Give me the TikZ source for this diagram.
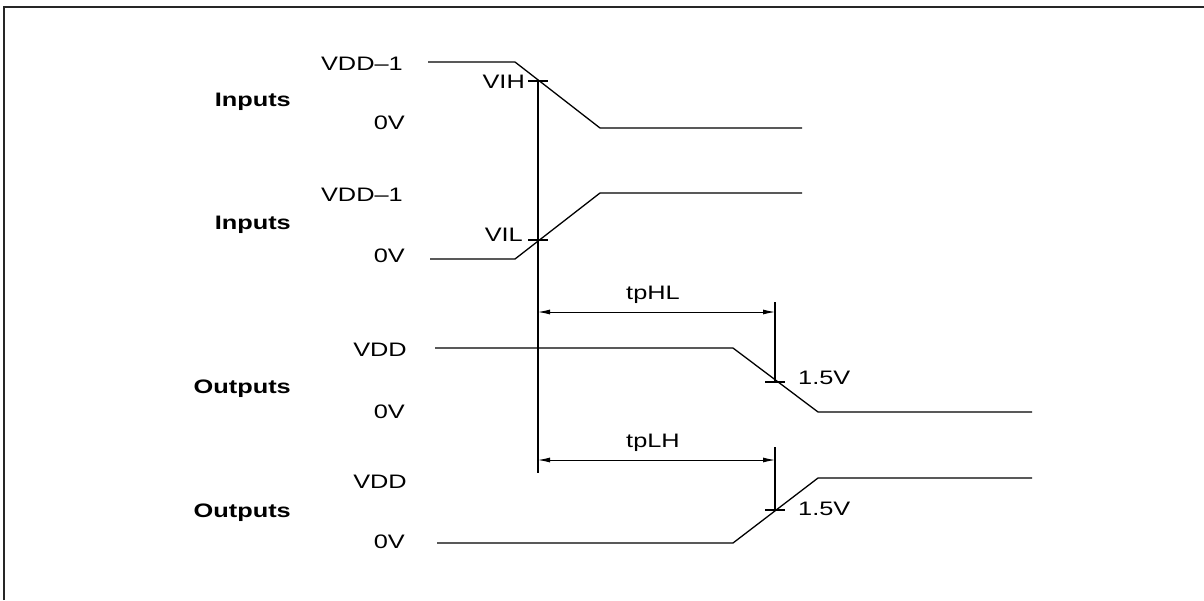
\documentclass[tikz,border=0pt]{standalone}
\usepackage{fontspec}
\setmainfont[FakeStretch=1.3]{Liberation Sans}
\usetikzlibrary{arrows.meta}
\begin{document}
\begin{tikzpicture}[x=1pt,y=-1pt,
  wave/.style={line width=1.3pt},
  mark line/.style={line width=1.3pt},
  dim/.style={line width=0.9pt, {Latex[length=12pt,width=5pt]}-{Latex[length=12pt,width=5pt]}},
  lbl/.style={font=\fontsize{19.5}{22}\selectfont, inner sep=0pt},
  sig/.style={font=\fontsize{19.5}{22}\selectfont\bfseries, inner sep=0pt, anchor=base east},
  lvl/.style={lbl, anchor=base east}]
\useasboundingbox (0,0) rectangle (1204,600);
\draw[line width=1.6pt, black!85] (4,600) -- (4,7) -- (1204,7);

% signal names
\node[sig] (in1) at (291,106) {Inputs};
\node[sig] (in2) at (291,229) {Inputs};
\node[sig] (out1) at (291,393) {Outputs};
\node[sig] (out2) at (291,517) {Outputs};

% level labels
\node[lvl] (l1h) at (403,70) {VDD–1};
\node[lvl] (l1l) at (405,129) {0V};
\node[lvl] (l2h) at (403,201) {VDD–1};
\node[lvl] (l2l) at (405,262) {0V};
\node[lvl] (l3h) at (407,356) {VDD};
\node[lvl] (l3l) at (405,418) {0V};
\node[lvl] (l4h) at (407,488) {VDD};
\node[lvl] (l4l) at (405,548) {0V};

% waveform 1 (falling input)
\coordinate (a0) at (428,62);
\coordinate (a1) at (515,62);
\coordinate (a2) at (600,128);
\coordinate (a3) at (802,128);
\draw[wave] (a0) -- (a1) -- (a2) -- (a3);

% waveform 2 (rising input)
\coordinate (b0) at (430,259);
\coordinate (b1) at (515,259);
\coordinate (b2) at (600,193);
\coordinate (b3) at (802,193);
\draw[wave] (b0) -- (b1) -- (b2) -- (b3);

% waveform 3 (falling output)
\coordinate (c0) at (435,348);
\coordinate (c1) at (733,348);
\coordinate (c2) at (818,412);
\coordinate (c3) at (1032,412);
\draw[wave] (c0) -- (c1) -- (c2) -- (c3);

% waveform 4 (rising output)
\coordinate (d0) at (437,543);
\coordinate (d1) at (733,543);
\coordinate (d2) at (818,478);
\coordinate (d3) at (1032,478);
\draw[wave] (d0) -- (d1) -- (d2) -- (d3);

% reference vertical line and threshold ticks
\coordinate (vtop) at (538,81);
\coordinate (vbot) at (538,473);
\draw[mark line] (vtop) -- (vbot);
\draw[mark line] (528,81) -- (548,81);
\draw[mark line] (528,240) -- (548,240);
\node[lvl] (vih) at (525,88) {VIH};
\node[lvl] (vil) at (523,241) {VIL};

% output markers
\coordinate (m1top) at (775,302);
\coordinate (m1) at (775,382);
\coordinate (m2top) at (775,447);
\coordinate (m2) at (775,510);
\draw[mark line] (m1top) -- (m1);
\draw[mark line] (765,382) -- (785,382);
\draw[mark line] (m2top) -- (m2);
\draw[mark line] (765,510) -- (785,510);
\node[lbl, anchor=base west] (v15a) at (798,384) {1.5V};
\node[lbl, anchor=base west] (v15b) at (798,515) {1.5V};

% delay dimensions
\coordinate (hl0) at (538,312);
\coordinate (hl1) at (775,312);
\coordinate (lh0) at (538,460);
\coordinate (lh1) at (775,460);
\draw[dim] (hl0) -- (hl1);
\draw[dim] (lh0) -- (lh1);
\node[lbl, anchor=base] (tphl) at (653,299) {tpHL};
\node[lbl, anchor=base] (tplh) at (653,447) {tpLH};
\end{tikzpicture}
\end{document}
